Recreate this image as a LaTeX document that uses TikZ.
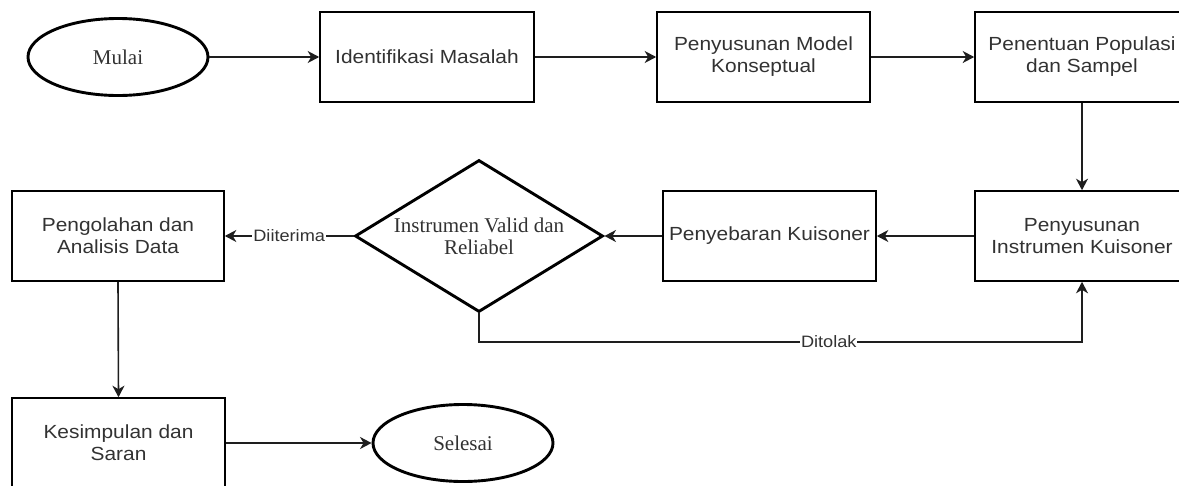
\documentclass[tikz,border=0pt]{standalone}
\usepackage{fontspec}
\usetikzlibrary{shapes.geometric, arrows.meta}
\newfontfamily\sansf[FakeStretch=1.1]{Liberation Sans}
\newfontfamily\seriff{Liberation Serif}
\definecolor{txt}{RGB}{50,50,50}
\begin{document}
\begin{tikzpicture}[x=1pt,y=-1pt,
  box/.style={draw=black, line width=1.6pt, minimum width=213pt, minimum height=90pt, inner sep=0pt, align=center, text=txt, font=\sansf\fontsize{19}{22}\selectfont},
  term/.style={ellipse, draw=black, line width=2.9pt, minimum width=180pt, minimum height=77pt, inner sep=0pt, text=txt, font=\seriff\fontsize{21}{22}\selectfont},
  dec/.style={diamond, draw=black, line width=2.9pt, minimum width=248pt, minimum height=152pt, inner sep=0pt},
  dectext/.style={align=center, text=txt, font=\seriff\fontsize{21}{22}\selectfont, inner sep=0pt},
  arr/.style={line width=1.6pt, draw={rgb,255:red,30;green,30;blue,30}, -{Stealth[length=11.5pt,width=12pt,inset=3.5pt]}},
  lbl/.style={fill=white, inner sep=1pt, text=txt, font=\sansf\fontsize{16.5}{18}\selectfont}
]
\useasboundingbox (0,0) rectangle (1179,485);
\clip (0,0) rectangle (1179,485);

% row 1
\node[term] (mulai) at (118,57) {Mulai};
\node[box, minimum width=214pt] (ident) at (427,57) {Identifikasi Masalah};
\node[box] (model) at (763.5,57) {Penyusunan Model\\Konseptual};
\node[box, minimum width=214pt] (populasi) at (1082,57) {Penentuan Populasi\\dan Sampel};

% row 2
\node[box, minimum width=214pt] (instr) at (1082,236) {Penyusunan\\Instrumen Kuisoner};
\node[box] (sebar) at (769.5,236) {Penyebaran Kuisoner};
\node[dec] (dia) at (479,236) {};
\node[dectext] (diatext) at (479,236) {Instrumen Valid dan\\Reliabel};
\node[box, minimum width=212pt] (olah) at (118,236) {Pengolahan dan\\Analisis Data};

% row 3
\node[box] (simpul) at (118.5,443) {Kesimpulan dan\\Saran};
\node[term] (selesai) at (463,443) {Selesai};

\coordinate (tl) at (479,342);

% connectors
\draw[arr] (mulai.east) -- (ident.west);
\draw[arr] (ident.east) -- (model.west);
\draw[arr] (model.east) -- (populasi.west);
\draw[arr] (populasi.south) -- (instr.north);
\draw[arr] (instr.west) -- (sebar.east);
\draw[arr] (sebar.west) -- (dia.east);
\draw[arr] (dia.west) -- node[lbl] {Diiterima} (olah.east);
\draw[arr] (dia.south) -- (tl) -| node[lbl, pos=0.29] {Ditolak} (instr.south);
\draw[arr] (olah.south) -- (simpul.north);
\draw[arr] (simpul.east) -- (selesai.west);
\end{tikzpicture}
\end{document}
